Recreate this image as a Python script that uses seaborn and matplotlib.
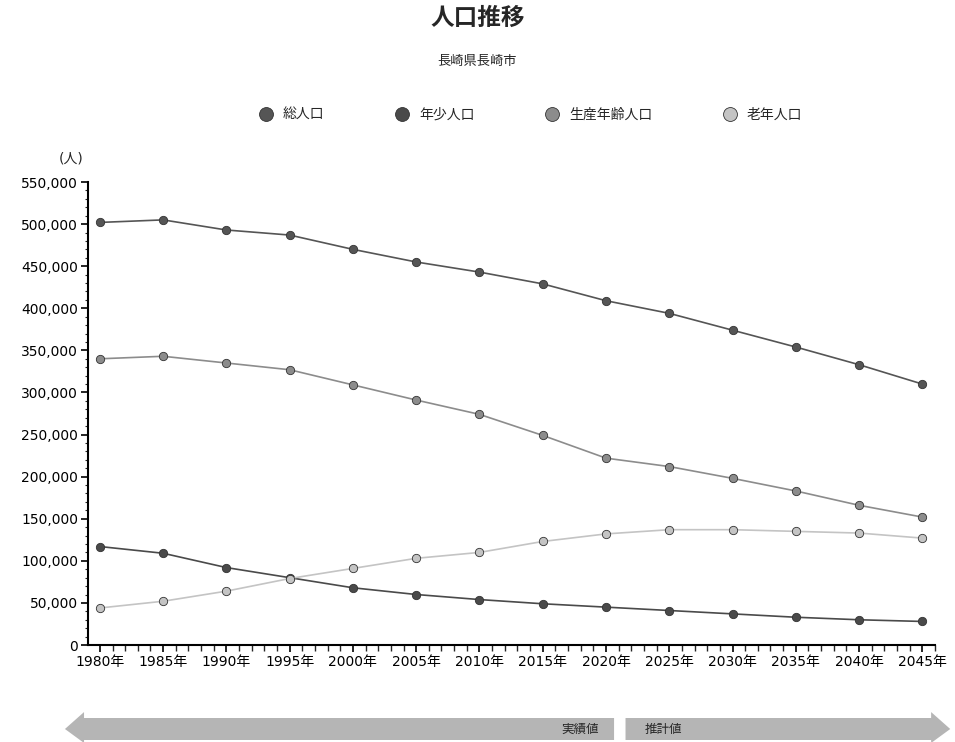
import matplotlib.pyplot as plt
import seaborn as sns
import numpy as np
import pandas as pd
from matplotlib.patches import Polygon
from matplotlib.ticker import MultipleLocator, FuncFormatter

# 長崎県長崎市の人口推移
years = [1980, 1985, 1990, 1995, 2000, 2005, 2010, 2015,
         2020, 2025, 2030, 2035, 2040, 2045]
total = [502000, 505000, 493000, 487000, 470000, 455000, 443000, 429000,
         409000, 394000, 374000, 354000, 333000, 310000]
young = [117000, 109000, 92000, 80000, 68000, 60000, 54000, 49000,
         45000, 41000, 37000, 33000, 30000, 28000]
working = [340000, 343000, 335000, 327000, 309000, 291000, 274000, 249000,
           222000, 212000, 198000, 183000, 166000, 152000]
elderly = [44000, 52000, 64000, 79000, 91000, 103000, 110000, 123000,
           132000, 137000, 137000, 135000, 133000, 127000]
series_names = ['総人口', '年少人口', '生産年齢人口', '老年人口']
series_colors = ['#555555', '#4a4a4a', '#8c8c8c', '#c4c4c4']

sns.set_theme(style='white')
plt.rcParams['font.family'] = ['DejaVu Sans', 'Noto Sans CJK JP']
plt.rcParams['axes.unicode_minus'] = False

df = pd.DataFrame({
    'year': years * 4,
    'value': total + young + working + elderly,
    'series': sum([[n] * len(years) for n in series_names], []),
})

fig = plt.figure(figsize=(9.55, 7.42), dpi=100)
ax = fig.add_axes([0.092, 0.1307, 0.887, 0.624])

sns.lineplot(data=df, x='year', y='value', hue='series', hue_order=series_names,
             palette=series_colors, marker='o', markersize=6, linewidth=1.2,
             markeredgecolor='#333333', markeredgewidth=0.6, ax=ax, legend=False)

ax.set_xlim(1979.05, 2046)
ax.set_ylim(0, 550000)
ax.xaxis.set_major_locator(MultipleLocator(5))
ax.xaxis.set_minor_locator(MultipleLocator(1))
ax.yaxis.set_major_locator(MultipleLocator(50000))
ax.yaxis.set_minor_locator(MultipleLocator(10000))
ax.xaxis.set_major_formatter(FuncFormatter(lambda v, p: f'{int(v)}年'))
ax.yaxis.set_major_formatter(FuncFormatter(lambda v, p: f'{int(v):,}'))
ax.tick_params(axis='both', which='major', direction='out', length=5, width=1.2,
               labelsize=10, colors='black', pad=2)
ax.tick_params(axis='x', which='minor', direction='out', length=4, width=1)
ax.tick_params(axis='y', which='minor', direction='out', length=2, width=0.8)
ax.tick_params(axis='x', which='both', bottom=True)
ax.tick_params(axis='y', which='both', left=True)
for s in ['top', 'right']:
    ax.spines[s].set_visible(False)
for s in ['left', 'bottom']:
    ax.spines[s].set_color('black')
    ax.spines[s].set_linewidth(1.5)
ax.set_xlabel('')
ax.set_ylabel('')

fig.text(0.074, 0.786, '(人)', fontsize=10, ha='center', va='center')

# タイトル
fig.text(0.5, 0.976, '人口推移', fontsize=17, fontweight='bold',
         ha='center', va='center', family=['Noto Sans CJK JP'])
fig.text(0.5, 0.917, '長崎県長崎市', fontsize=9.5, ha='center', va='center',
         family=['Noto Sans CJK JP'])

# 凡例
handles = [plt.Line2D([], [], marker='o', linestyle='', markersize=10,
                      markerfacecolor=c, markeredgecolor='#333333',
                      markeredgewidth=0.6) for c in series_colors]
fig.legend(handles, series_names, loc='center', bbox_to_anchor=(0.552, 0.845),
           ncol=4, frameon=False, handletextpad=0.2,
           columnspacing=4.6, prop={'family': ['Noto Sans CJK JP'], 'size': 10})

# 実績値・推計値の矢印
y0, y1 = 1 - 740 / 742, 1 - 718 / 742
ym = (y0 + y1) / 2
left_arrow = Polygon([[0.068, ym], [0.088, y1 + 0.008], [0.088, y1], [0.643, y1],
                      [0.643, y0], [0.088, y0], [0.088, y0 - 0.004]],
                     closed=True, transform=fig.transFigure,
                     facecolor='#b5b5b5', edgecolor='none')
right_arrow = Polygon([[0.655, y1], [0.975, y1], [0.975, y1 + 0.008], [0.995, ym],
                       [0.975, y0 - 0.004], [0.975, y0], [0.655, y0]],
                      closed=True, transform=fig.transFigure,
                      facecolor='#b5b5b5', edgecolor='none')
fig.patches.extend([left_arrow, right_arrow])
fig.text(0.627, ym, '実績値', fontsize=9, ha='right', va='center',
         family=['Noto Sans CJK JP'])
fig.text(0.675, ym, '推計値', fontsize=9, ha='left', va='center',
         family=['Noto Sans CJK JP'])

fig.savefig('out.png', dpi=100)
